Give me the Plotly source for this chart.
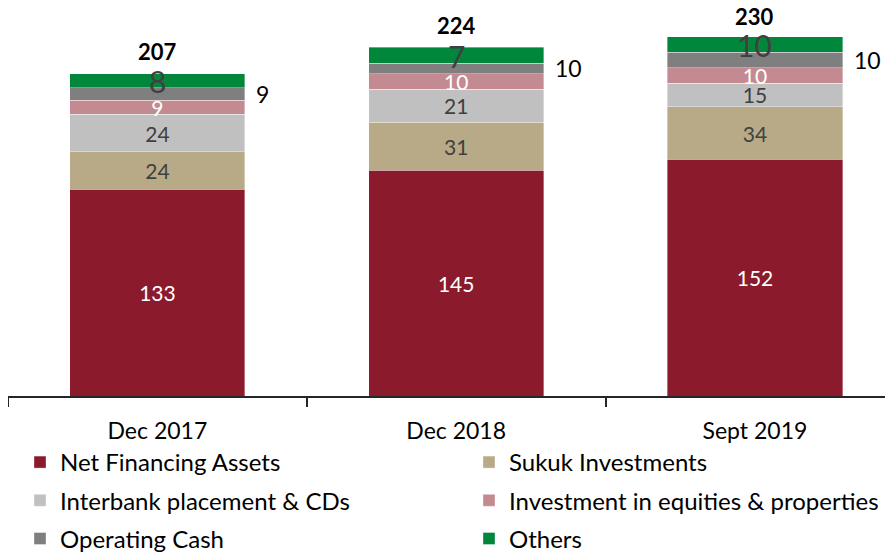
import plotly.graph_objects as go

categories = ["Dec 2017", "Dec 2018", "Sept 2019"]
net_financing = [133, 145, 152]
sukuk = [24, 31, 34]
interbank = [24, 21, 15]
equities = [9, 10, 10]
operating_cash = [8, 7, 10]
others = [9, 10, 10]
totals = [207, 224, 230]

# name, values, colour, label colour, show inside label, legend column
series = [
    ("Net Financing Assets", net_financing, "#8A1A2C", "white", True, "legend"),
    ("Sukuk Investments", sukuk, "#B8AA87", "#404040", True, "legend2"),
    ("Interbank placement & CDs", interbank, "#C0C0C0", "#404040", True, "legend"),
    ("Investment in equities & properties", equities, "#C48A92", "white", True, "legend2"),
    ("Operating Cash", operating_cash, "#7F7F7F", "#404040", False, "legend"),
    ("Others", others, "#00873C", "#404040", False, "legend2"),
]

FONT = "Lato"
BAR_W = 0.586
# the page body has an 8px margin, so the figure is 8px smaller than the window
W, H = 885, 548

fig = go.Figure()
for k, (name, vals, color, tcolor, show_text, leg) in enumerate(series):
    fig.add_trace(go.Bar(
        x=categories, y=vals, name=name, width=BAR_W,
        marker=dict(color=color, line=dict(color="rgba(255,255,255,0.6)", width=0.6)),
        text=[str(v) for v in vals] if show_text else None,
        textposition="inside" if show_text else "none",
        insidetextanchor="middle", textangle=0,
        textfont=dict(color=tcolor, size=21, family=FONT),
        legend=leg, legendgroup="g%d" % k,
        hoverinfo="skip",
    ))

annotations = []
for i, cat in enumerate(categories):
    base_oc = net_financing[i] + sukuk[i] + interbank[i] + equities[i]
    top_oc = base_oc + operating_cash[i]
    annotations.append(dict(x=cat, y=totals[i], xref="x", yref="y", text="<b>%d</b>" % totals[i],
                            showarrow=False, yanchor="middle", yshift=22,
                            font=dict(size=22, color="black", family=FONT)))
    annotations.append(dict(x=cat, y=top_oc, xref="x", yref="y", text=str(operating_cash[i]),
                            showarrow=False, yanchor="middle", yshift=7,
                            font=dict(size=30, color="#404040", family=FONT)))
    annotations.append(dict(x=i + BAR_W / 2, y=base_oc + operating_cash[i] / 2, xref="x", yref="y",
                            text=str(others[i]), showarrow=False, xanchor="left", yanchor="middle",
                            xshift=9, font=dict(size=23, color="black", family=FONT)))

legend_common = dict(orientation="v", xref="container", yref="container",
                     xanchor="left", yanchor="top", traceorder="grouped", tracegroupgap=4,
                     font=dict(size=24, color="black", family=FONT), bgcolor="rgba(0,0,0,0)")

fig.update_layout(
    width=W, height=H,
    barmode="stack",
    plot_bgcolor="white", paper_bgcolor="white",
    margin=dict(l=0, r=0, t=0, b=160, autoexpand=False),
    font=dict(family=FONT, color="black"),
    uniformtext=dict(minsize=21, mode="show"),
    showlegend=True,
    legend=dict(x=12 / W, y=1 - 432 / H, **legend_common),
    legend2=dict(x=461 / W, y=1 - 432 / H, **legend_common),
    annotations=annotations,
    xaxis=dict(range=[-0.5, 2.462], showline=True, linecolor="#262626", linewidth=1.5,
               ticks="outside", ticklen=9, tickwidth=1.5, tickcolor="#262626",
               tickson="boundaries", ticklabelstandoff=14,
               tickfont=dict(size=23, color="black", family=FONT),
               showgrid=False, fixedrange=True),
    yaxis=dict(range=[0, 388 / 1.556], visible=False, showgrid=False, fixedrange=True),
)

fig.write_html("out.html")
